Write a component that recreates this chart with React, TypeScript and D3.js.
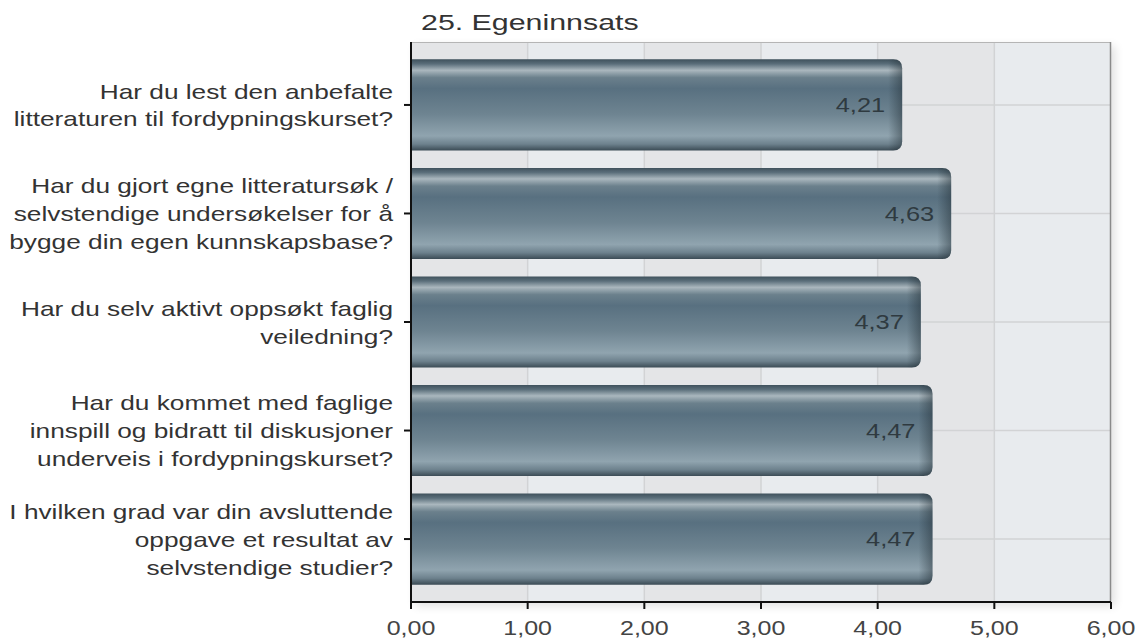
import React from "react";
import * as d3 from "d3";

const title = "25. Egeninnsats";
const categories: string[][] = [
  ["Har du lest den anbefalte", "litteraturen til fordypningskurset?"],
  ["Har du gjort egne litteratursøk /", "selvstendige undersøkelser for å", "bygge din egen kunnskapsbase?"],
  ["Har du selv aktivt oppsøkt faglig", "veiledning?"],
  ["Har du kommet med faglige", "innspill og bidratt til diskusjoner", "underveis i fordypningskurset?"],
  ["I hvilken grad var din avsluttende", "oppgave et resultat av", "selvstendige studier?"],
];
const values = [4.21, 4.63, 4.37, 4.47, 4.47];
const tickValues = [0, 1, 2, 3, 4, 5, 6];

const W = 1142, H = 642;
const left = 411, right = 1111, top = 42, bottom = 602;
const FONT = "'Liberation Sans', Arial, Helvetica, sans-serif";
const fmt = (v: number) => d3.format(".2f")(v).replace(".", ",");

export default function App() {
  const x = d3.scaleLinear().domain([0, 6]).range([left, right]);
  const ids = categories.map((_, i) => String(i));
  const y = d3.scaleBand<string>().domain(ids).range([top, bottom]).padding(0.16);
  const bw = y.bandwidth();
  const r = 9;

  const barPath = (x0: number, x1: number, y0: number, h: number) => {
    const p = d3.path();
    p.moveTo(x0, y0);
    p.lineTo(x1 - r, y0);
    p.quadraticCurveTo(x1, y0, x1, y0 + r);
    p.lineTo(x1, y0 + h - r);
    p.quadraticCurveTo(x1, y0 + h, x1 - r, y0 + h);
    p.lineTo(x0, y0 + h);
    p.closePath();
    return p.toString();
  };

  const step = y.step();
  const separators = ids.slice(1).map((id) => (y(id) as number) - (step - bw) / 2);
  const SX = 1.25;

  return (
    <svg width={W} height={H} style={{ display: "block", background: "#fff", position: "fixed", left: 0, top: 0 }}>
      <defs>
        <linearGradient id="barV" x1="0" y1="0" x2="0" y2="1">
          <stop offset="0" stopColor="#3f515c" />
          <stop offset="0.05" stopColor="#5a6e7a" />
          <stop offset="0.12" stopColor="#aab7be" />
          <stop offset="0.2" stopColor="#6b808c" />
          <stop offset="0.32" stopColor="#587080" />
          <stop offset="0.6" stopColor="#6e8491" />
          <stop offset="0.84" stopColor="#90a4af" />
          <stop offset="0.93" stopColor="#6d818d" />
          <stop offset="1" stopColor="#3b4b55" />
        </linearGradient>
        {values.map((v, i) => {
          const w = x(v) - left;
          const s = 1 - 14 / w;
          return (
            <linearGradient key={i} id={`barH${i}`} x1="0" y1="0" x2="1" y2="0">
              <stop offset="0" stopColor="#1e2a31" stopOpacity="0" />
              <stop offset={s} stopColor="#1e2a31" stopOpacity="0" />
              <stop offset="1" stopColor="#1e2a31" stopOpacity="0.45" />
            </linearGradient>
          );
        })}
        <linearGradient id="sep" x1="0" y1="0" x2="1" y2="0">
          <stop offset="0" stopColor="#999" stopOpacity="0" />
          <stop offset="0.5" stopColor="#888" stopOpacity="0.9" />
          <stop offset="1" stopColor="#999" stopOpacity="0" />
        </linearGradient>
        <filter id="shadow" x="-5%" y="-5%" width="110%" height="110%">
          <feGaussianBlur stdDeviation="5" />
        </filter>
      </defs>

      <rect x={left + 4} y={top + 4} width={right - left} height={bottom - top} fill="#000" opacity={0.12} filter="url(#shadow)" />

      {tickValues.slice(0, -1).map((t, i) => (
        <rect key={t} x={x(t)} y={top} width={x(t + 1) - x(t)} height={bottom - top}
          fill={i % 2 === 0 ? "#e4e5e7" : "#e8ebee"} />
      ))}
      {tickValues.slice(1, -1).map((t) => (
        <line key={t} x1={x(t)} x2={x(t)} y1={top} y2={bottom} stroke="#d2d3d5" strokeWidth={1.5} />
      ))}
      {ids.map((id) => {
        const cy = (y(id) as number) + bw / 2;
        return <line key={id} x1={left} x2={right} y1={cy} y2={cy} stroke="#d2d3d5" strokeWidth={1.5} />;
      })}
      <line x1={left} x2={right} y1={top + 0.5} y2={top + 0.5} stroke="#b5b5b5" />
      <line x1={right - 0.5} x2={right - 0.5} y1={top} y2={bottom} stroke="#8a8a8a" strokeWidth={1.5} />

      {values.map((v, i) => {
        const y0 = y(ids[i]) as number;
        const d = barPath(left, x(v), y0, bw);
        return (
          <g key={i}>
            <path d={d} fill="url(#barV)" />
            <path d={d} fill={`url(#barH${i})`} />
            <g transform={`translate(${x(v) - 17},${y0 + bw / 2}) scale(1.27,1)`}>
              <text x={0} y={0} dy="0.36em" textAnchor="end"
                fontFamily={FONT} fontSize={20} fill="#2f3a40">{fmt(v)}</text>
            </g>
          </g>
        );
      })}

      <line x1={left} x2={left} y1={top} y2={bottom + 1} stroke="#111" strokeWidth={2} />
      <line x1={left - 1} x2={right} y1={bottom} y2={bottom} stroke="#111" strokeWidth={2} />
      {tickValues.map((t) => (
        <g key={t}>
          <line x1={x(t)} x2={x(t)} y1={bottom} y2={bottom + 7} stroke="#111" strokeWidth={2} />
          <g transform={`translate(${x(t)},${628}) scale(1.25,1)`}>
            <text x={0} y={0} dy="0.36em" textAnchor="middle" fontFamily={FONT} fontSize={20} fill="#444">{fmt(t)}</text>
          </g>
        </g>
      ))}
      {ids.map((id) => {
        const cy = (y(id) as number) + bw / 2;
        return <line key={id} x1={left - 7} x2={left} y1={cy} y2={cy} stroke="#111" strokeWidth={2} />;
      })}

      {separators.map((sy, i) => (
        <line key={i} x1={8} x2={404} y1={sy} y2={sy} stroke="url(#sep)" strokeWidth={1.5} />
      ))}

      {categories.map((lines, i) => {
        const cy = (y(ids[i]) as number) + bw / 2;
        const lh = 28;
        const start = cy - ((lines.length - 1) * lh) / 2;
        return (
          <g key={i} transform={`translate(393,0) scale(${SX},1)`}>
            <text textAnchor="end" fontFamily={FONT} fontSize={21} fill="#333">
              {lines.map((l, j) => (
                <tspan key={j} x={0} y={start + j * lh} dy="0.36em">{l}</tspan>
              ))}
            </text>
          </g>
        );
      })}

      <g transform="translate(421,22) scale(1.38,1)">
        <text x={0} y={0} dy="0.36em" fontFamily={FONT} fontSize={22} fill="#333">{title}</text>
      </g>
    </svg>
  );
}
